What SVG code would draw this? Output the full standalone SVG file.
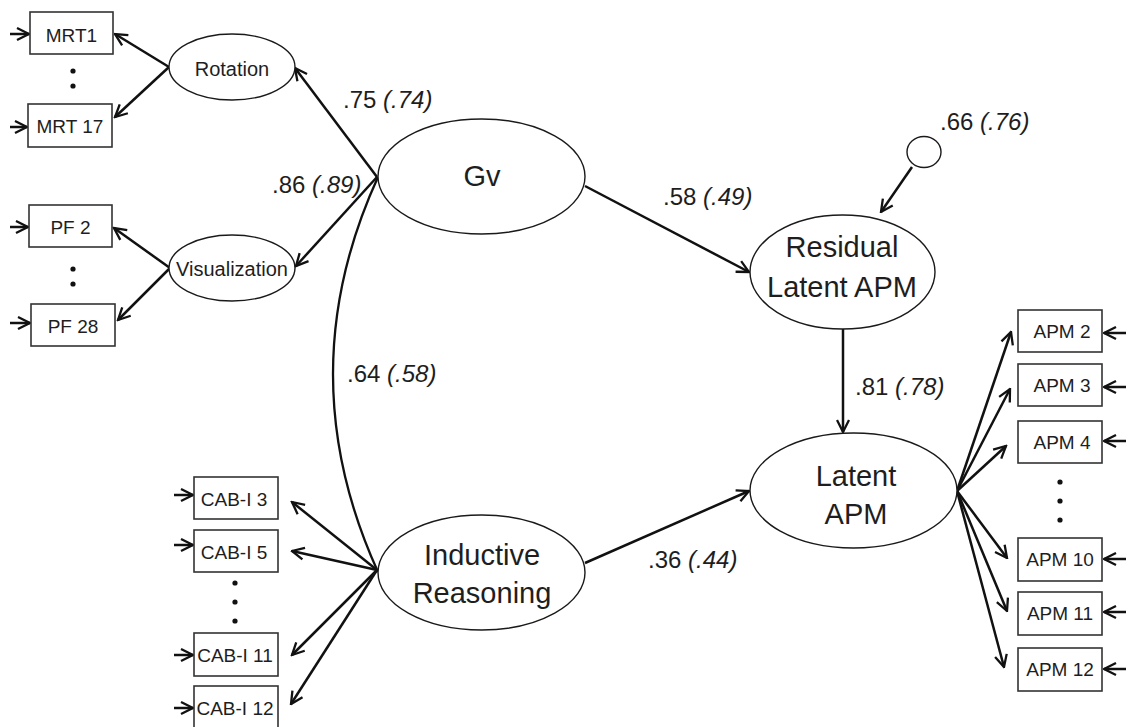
<svg xmlns="http://www.w3.org/2000/svg" width="1128" height="727" viewBox="0 0 1128 727">
  <style>
    .bg { fill: #ffffff; }
    .box { fill: #ffffff; stroke: #333333; stroke-width: 1.6; }
    .lat { fill: #ffffff; stroke: #1a1a1a; stroke-width: 1.4; }
    .arr { fill: none; stroke: #111111; stroke-width: 2.5; marker-end: url(#head); }
    .cov { fill: none; stroke: #111111; stroke-width: 2.3; }
    .t { font-family: "Liberation Sans", Arial, sans-serif; fill: #1e1e1e; text-anchor: middle; }
    .bl { font-size: 19px; }
    .sl { font-size: 20px; }
    .ll { font-size: 29px; }
    .cf { font-family: "Liberation Sans", Arial, sans-serif; fill: #1e1e1e; font-size: 24px; }
    .cf tspan.i { font-style: italic; }
    .dot { fill: #111111; }
  </style>
  <defs>
    <marker id="head" viewBox="0 0 15 15" refX="13.5" refY="7.5" markerWidth="15" markerHeight="15" markerUnits="userSpaceOnUse" orient="auto">
      <path d="M1.5,1.5 L13.5,7.5 L1.5,13.5" fill="none" stroke="#111111" stroke-width="2.3" stroke-linejoin="miter"/>
    </marker>
  </defs>
  <rect class="bg" x="0" y="0" width="1128" height="727"/>

  <!-- connectors -->
  <g id="connectors">
    <!-- error terms into indicators -->
    <line class="arr" x1="10" y1="34" x2="29" y2="34"/>
    <line class="arr" x1="10" y1="127" x2="27" y2="127"/>
    <line class="arr" x1="10" y1="227" x2="28" y2="227"/>
    <line class="arr" x1="10" y1="323" x2="30" y2="323"/>
    <line class="arr" x1="174" y1="495" x2="193" y2="495"/>
    <line class="arr" x1="174" y1="545" x2="193" y2="545"/>
    <line class="arr" x1="174" y1="655" x2="193" y2="655"/>
    <line class="arr" x1="174" y1="708" x2="193" y2="708"/>
    <line class="arr" x1="1126" y1="333" x2="1104" y2="333"/>
    <line class="arr" x1="1126" y1="387" x2="1104" y2="387"/>
    <line class="arr" x1="1126" y1="441" x2="1104" y2="441"/>
    <line class="arr" x1="1126" y1="559" x2="1104" y2="559"/>
    <line class="arr" x1="1126" y1="612" x2="1104" y2="612"/>
    <line class="arr" x1="1126" y1="669" x2="1104" y2="669"/>

    <!-- Rotation loadings -->
    <line class="arr" x1="169" y1="67" x2="115" y2="34"/>
    <line class="arr" x1="169" y1="67" x2="115" y2="117"/>
    <!-- Visualization loadings -->
    <line class="arr" x1="170" y1="268" x2="114" y2="228"/>
    <line class="arr" x1="170" y1="268" x2="118" y2="320"/>

    <!-- Gv to first-order factors -->
    <line class="arr" x1="377" y1="177" x2="295" y2="68"/>
    <line class="arr" x1="377" y1="177" x2="296" y2="266"/>

    <!-- Gv with Inductive Reasoning -->
    <path class="cov" d="M378,177 Q288,374 378,572"/>

    <!-- Inductive Reasoning loadings -->
    <line class="arr" x1="377" y1="570" x2="292" y2="502"/>
    <line class="arr" x1="377" y1="570" x2="292" y2="551"/>
    <line class="arr" x1="377" y1="570" x2="292" y2="655"/>
    <line class="arr" x1="377" y1="570" x2="291" y2="704"/>

    <!-- structural paths -->
    <line class="arr" x1="585" y1="186" x2="749" y2="272"/>
    <line class="arr" x1="585" y1="563" x2="749" y2="491"/>
    <line class="arr" x1="843" y1="329" x2="843" y2="432"/>
    <line class="arr" x1="912" y1="167" x2="881" y2="212"/>

    <!-- Latent APM loadings -->
    <line class="arr" x1="957" y1="491" x2="1011" y2="332"/>
    <line class="arr" x1="957" y1="491" x2="1010" y2="389"/>
    <line class="arr" x1="957" y1="491" x2="1006" y2="446"/>
    <line class="arr" x1="957" y1="491" x2="1007" y2="558"/>
    <line class="arr" x1="957" y1="491" x2="1007" y2="611"/>
    <line class="arr" x1="957" y1="491" x2="1004" y2="667"/>
  </g>

  <!-- observed indicators -->
  <g id="mrt1"><rect class="box" x="30" y="12" width="83" height="42"/><text class="t bl" x="71.5" y="42">MRT1</text></g>
  <g id="mrt17"><rect class="box" x="28" y="104" width="84" height="43"/><text class="t bl" x="70" y="133">MRT 17</text></g>
  <g id="mrt-dots"><circle class="dot" cx="73" cy="71" r="2.6"/><circle class="dot" cx="73" cy="86" r="2.6"/></g>
  <g id="pf2"><rect class="box" x="29" y="205" width="83" height="42"/><text class="t bl" x="70.5" y="234">PF 2</text></g>
  <g id="pf-dots"><circle class="dot" cx="73" cy="269" r="2.6"/><circle class="dot" cx="73" cy="284" r="2.6"/></g>
  <g id="pf28"><rect class="box" x="31" y="304" width="84" height="42"/><text class="t bl" x="73" y="333">PF 28</text></g>

  <g id="cab3"><rect class="box" x="194" y="477" width="84" height="42"/><text class="t bl" x="234" y="506">CAB-I 3</text></g>
  <g id="cab5"><rect class="box" x="194" y="530" width="84" height="42"/><text class="t bl" x="234" y="559">CAB-I 5</text></g>
  <g id="cab-dots"><circle class="dot" cx="235" cy="583" r="2.6"/><circle class="dot" cx="235" cy="602" r="2.6"/><circle class="dot" cx="235" cy="621" r="2.6"/></g>
  <g id="cab11"><rect class="box" x="194" y="633" width="84" height="43"/><text class="t bl" x="235" y="662">CAB-I 11</text></g>
  <g id="cab12"><rect class="box" x="194" y="686" width="84" height="42"/><text class="t bl" x="235" y="715">CAB-I 12</text></g>

  <g id="apm2"><rect class="box" x="1018" y="310" width="84" height="42"/><text class="t bl" x="1062" y="338">APM 2</text></g>
  <g id="apm3"><rect class="box" x="1018" y="364" width="84" height="42"/><text class="t bl" x="1062" y="392">APM 3</text></g>
  <g id="apm4"><rect class="box" x="1018" y="421" width="84" height="42"/><text class="t bl" x="1062" y="449">APM 4</text></g>
  <g id="apm-dots"><circle class="dot" cx="1060" cy="482" r="2.6"/><circle class="dot" cx="1060" cy="501" r="2.6"/><circle class="dot" cx="1060" cy="520" r="2.6"/></g>
  <g id="apm10"><rect class="box" x="1018" y="538" width="84" height="43"/><text class="t bl" x="1060" y="566">APM 10</text></g>
  <g id="apm11"><rect class="box" x="1018" y="592" width="84" height="43"/><text class="t bl" x="1060" y="620">APM 11</text></g>
  <g id="apm12"><rect class="box" x="1018" y="648" width="84" height="43"/><text class="t bl" x="1060" y="676">APM 12</text></g>

  <!-- latent variables -->
  <g id="rotation"><ellipse class="lat" cx="232" cy="67" rx="63" ry="33"/><text class="t sl" x="232" y="76">Rotation</text></g>
  <g id="visualization"><ellipse class="lat" cx="232" cy="268" rx="63" ry="33"/><text class="t sl" x="232" y="276">Visualization</text></g>
  <g id="gv"><ellipse class="lat" cx="481.5" cy="176.5" rx="103.5" ry="57.5"/><text class="t ll" x="482" y="186">Gv</text></g>
  <g id="inductive"><ellipse class="lat" cx="481.5" cy="572.5" rx="103.5" ry="57.5"/><text class="t ll" x="482" y="565">Inductive</text><text class="t ll" x="482" y="603">Reasoning</text></g>
  <g id="residual"><ellipse class="lat" cx="842.5" cy="272" rx="92.5" ry="57"/><text class="t ll" x="842" y="257">Residual</text><text class="t ll" x="842" y="297">Latent APM</text></g>
  <g id="disturbance"><ellipse class="lat" cx="924" cy="152" rx="17" ry="15.5"/></g>
  <g id="latent-apm"><ellipse class="lat" cx="853.5" cy="490.5" rx="103.5" ry="57.5"/><text class="t ll" x="856" y="486">Latent</text><text class="t ll" x="856" y="524">APM</text></g>

  <!-- path coefficients -->
  <g id="coefficients">
    <text class="cf" x="343" y="108">.75 <tspan class="i">(.74)</tspan></text>
    <text class="cf" x="272" y="193">.86 <tspan class="i">(.89)</tspan></text>
    <text class="cf" x="663" y="205">.58 <tspan class="i">(.49)</tspan></text>
    <text class="cf" x="940" y="130">.66 <tspan class="i">(.76)</tspan></text>
    <text class="cf" x="347" y="382">.64 <tspan class="i">(.58)</tspan></text>
    <text class="cf" x="855" y="395">.81 <tspan class="i">(.78)</tspan></text>
    <text class="cf" x="648" y="568">.36 <tspan class="i">(.44)</tspan></text>
  </g>
</svg>
